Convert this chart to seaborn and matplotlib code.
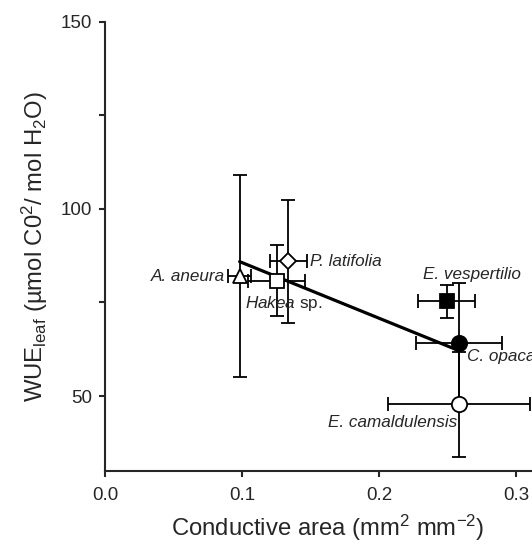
import matplotlib
matplotlib.use('Agg')
import matplotlib.pyplot as plt
import seaborn as sns
import pandas as pd

# 종(species)별 데이터
species = ['A. aneura', 'Hakea sp.', 'P. latifolia', 'E. vespertilio', 'C. opaca', 'E. camaldulensis']
cond_area = [0.098, 0.125, 0.1335, 0.249, 0.258, 0.258]
cond_err = [0.0085, 0.021, 0.0135, 0.0205, 0.0315, 0.052]
wue = [82.0, 80.8, 86.0, 75.3, 64.3, 47.8]
wue_err = [27.0, 9.5, 16.5, 4.5, 16.0, 14.0]

markers = ['^', 's', 'D', 's', 'o', 'o']
filled = [False, False, False, True, True, False]
msizes = [10, 10, 8, 10, 11, 11]

# 라벨 위치
label_text = ['A. aneura', r'$\it{Hakea}$ sp.', 'P. latifolia', 'E. vespertilio', 'C. opaca', 'E. camaldulensis']
label_x = [0.0875, 0.102, 0.1494, 0.232, 0.2638, 0.1628]
label_y = [81.9, 74.7, 86.0, 82.4, 60.5, 42.8]
label_ha = ['right', 'left', 'left', 'left', 'left', 'left']
label_style = ['italic', 'normal', 'italic', 'italic', 'italic', 'italic']

df = pd.DataFrame({'species': species, 'x': cond_area, 'y': wue})

sns.set_style('ticks')
plt.rcParams['font.family'] = ['Liberation Sans', 'DejaVu Sans']
plt.rcParams['mathtext.fontset'] = 'custom'
plt.rcParams['mathtext.rm'] = 'Liberation Sans'
plt.rcParams['mathtext.it'] = 'Liberation Sans:italic'
plt.rcParams['mathtext.default'] = 'regular'

fig = plt.figure(figsize=(5.32, 5.45), dpi=100)
# 원본 그림은 오른쪽이 잘려 있음 -> 축을 그림 밖까지 늘림
ax = fig.add_axes([0.198, 0.136, 0.836, 0.824])

# 회귀선 (전체 점으로 적합)
sns.regplot(x='x', y='y', data=df, ax=ax, scatter=False, ci=None, truncate=True,
            line_kws={'color': 'black', 'lw': 2.3, 'zorder': 2})

# 오차막대 + 점
for i in range(len(species)):
    ax.errorbar(cond_area[i], wue[i], xerr=cond_err[i], yerr=wue_err[i],
                fmt=markers[i], ms=msizes[i], mfc='black' if filled[i] else 'white',
                mec='black', mew=1.3, ecolor='black', elinewidth=1.3,
                capsize=5, capthick=1.3, zorder=3, clip_on=False)
    ax.text(label_x[i], label_y[i], label_text[i], ha=label_ha[i], va='center',
            fontsize=12.3, style=label_style[i], zorder=4)

ax.set_xlim(0, 0.3246)
ax.set_ylim(30, 150)
ax.set_xticks([0.0, 0.1, 0.2, 0.3])
ax.set_xticklabels(['0.0', '0.1', '0.2', '0.3'])
ax.set_yticks([50, 100, 150])
ax.set_yticks([75, 125], minor=True)

for side in ['top', 'right']:
    ax.spines[side].set_visible(False)
for side in ['left', 'bottom']:
    ax.spines[side].set_linewidth(1.5)
ax.tick_params(axis='both', which='both', direction='out', length=4.3, width=1.5,
               labelsize=13.5)
ax.tick_params(axis='x', pad=7)
ax.tick_params(axis='y', pad=5)

ax.set_xlabel('Conductive area (mm$^2$ mm$^{-2}$)', fontsize=17.2, labelpad=7)
ax.set_ylabel('WUE$_{leaf}$ (µmol C0$^2$/ mol H$_2$O)', fontsize=17.2, labelpad=8)

fig.savefig('out.png', dpi=100)
